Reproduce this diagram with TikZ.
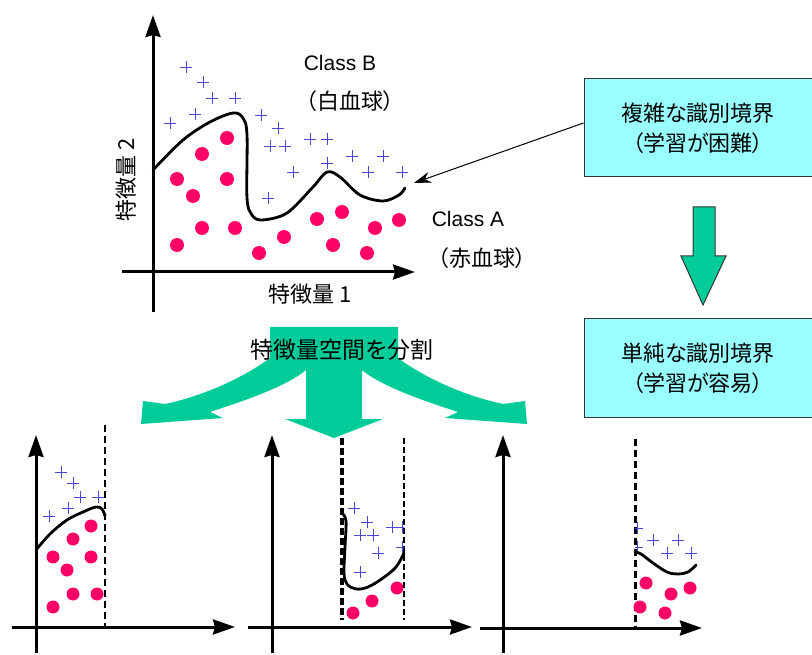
\documentclass[tikz,border=0pt]{standalone}
\usepackage{fontspec}
\setmainfont{Liberation Sans}
\newfontfamily\jp[RawFeature={+palt}]{Noto Sans CJK JP}
\usetikzlibrary{arrows.meta,calc}
\definecolor{dotc}{HTML}{FF0066}
\definecolor{plc}{HTML}{4848D8}
\definecolor{boxc}{HTML}{99FFFF}
\definecolor{grn}{HTML}{00CC99}
\begin{document}
\begin{tikzpicture}[x=1pt,y=-1pt,
  axis/.style={line width=3pt,-{Stealth[length=22pt,width=15pt,inset=2pt]}},
  bnd/.style={line width=2.8pt,line cap=round,line join=round},
  pls/.pic={\draw[plc,line width=0.9pt] (-6pt,0)--(6pt,0) (0,-6pt)--(0,6pt);},
  jptxt/.style={font=\jp\fontsize{22}{26}\selectfont,inner sep=0pt},
  lat/.style={font=\fontsize{21}{25}\selectfont,inner sep=0pt},
  cbox/.style={draw=black!80,line width=1pt,fill=boxc,minimum width=228pt,minimum height=98pt,align=center,font=\jp\fontsize{22}{30}\selectfont},
  dsh/.style={line width=3.2pt,dash pattern=on 7pt off 3pt}
]
\useasboundingbox (0,0) rectangle (812,655);

% ---------- big three-way arrow ----------
\fill[grn] (270,327) -- (398,327) -- (398,358)
  .. controls (425,378) and (465,396) .. (503,404) -- (525,401) -- (527,424)
  -- (445,418) -- (458,412) .. controls (415,398) and (380,385) .. (362,370)
  -- (362,419) -- (383,419) -- (334,438) -- (285,419) -- (306,419) -- (306,370)
  .. controls (288,385) and (253,398) .. (210,412) -- (223,418) -- (141,424)
  -- (143,401) -- (165,404) .. controls (203,396) and (243,378) .. (270,358) -- cycle;
\node[jptxt,font=\jp\fontsize{23}{27}\selectfont] (split) at (342,350) {特徴量空間を分割};

% ---------- main plot ----------
\draw[axis] (153,312) -- (153,15);
\draw[axis] (122,272) -- (415,272);
\foreach \p in {(227,138),(202,154),(177,179),(227,179),(193,196),(202,228),(235,228),(177,245),
  (259,253),(284,237),(317,219),(342,212),(333,245),(375,228),(399,220),(367,253)}
  \fill[dotc] \p circle (7pt);
\foreach \p in {(186,67),(203,82),(212,98),(235,98),(195,114),(170,123),(261,115),(278,128),
  (270,146),(285,146),(310,139),(327,139),(293,172),(327,163),(352,156),(383,156),(368,172),
  (402,172),(268,198)}
  \pic at \p {pls};
\draw[bnd] plot[smooth,tension=0.55] coordinates {(153,170) (183,140) (210,122) (233,113) (243,118)
  (247,135) (247,198) (252,215) (262,220) (287,213) (313,187) (327,172) (340,177) (360,195)
  (383,201) (399,195) (405,188)};
\coordinate (tipc) at (414,183);
\node[lat] (classB) at (340,63) {Class B};
\node[jptxt] (wbc) at (350,101) {（白血球）};
\node[lat] (classA) at (468,219) {Class A};
\node[jptxt] (rbc) at (482,258) {（赤血球）};
\node[jptxt] (f1) at (310,294) {特徴量 1};
\node[jptxt,rotate=90] (f2) at (126,180) {特徴量 2};

% ---------- boxes ----------
\node[cbox] (hard) at (698,128) {複雑な識別境界\\（学習が困難）};
\node[cbox] (easy) at (698,368) {単純な識別境界\\（学習が容易）};
\draw[line width=1pt,-{Stealth[length=17pt,width=11pt]}] ([yshift=5pt]hard.west) -- (tipc);
\draw[draw=black!80,fill=grn,line width=1pt] (693,207) -- (715,207) -- (715,256) -- (726,256)
  -- (703,305) -- (681,256) -- (693,256) -- cycle;

% ---------- panel 1 ----------
\draw[axis] (36,653) -- (36,435);
\draw[axis] (12,627) -- (235,627);
\draw[line width=2.8pt,dash pattern=on 7pt off 4pt] (105,425) -- (105,627);
\foreach \p in {(91,526),(73,539),(53,557),(91,557),(67,570),(73,594),(97,594),(53,607)}
  \fill[dotc] \p circle (6.5pt);
\foreach \p in {(61,472),(73,483),(80,497),(98,497),(68,508),(49,516)}
  \pic at \p {pls};
\draw[bnd] plot[smooth,tension=0.6] coordinates {(36,550) (50,534) (67,520) (83,512) (96,507) (102,509) (105,516)};

% ---------- panel 2 ----------
\draw[axis] (272,653) -- (272,435);
\draw[axis] (248,627) -- (472,627);
\draw[dsh] (342,438) -- (342,620);
\draw[line width=1.2pt,dash pattern=on 6pt off 3pt] (404,438) -- (404,620);
\foreach \p in {(353,613),(372,601),(397,588)}
  \fill[dotc] \p circle (6.5pt);
\begin{scope}
\clip (330,430) rectangle (404,625);
\foreach \p in {(354,508),(367,522),(360,535),(373,535),(392,527),(402,527),(402,547),(378,553),(360,572)}
  \pic at \p {pls};
\end{scope}
\draw[bnd] plot[smooth,tension=0.6] coordinates {(342,513) (346,521) (345,547) (344,573) (347,584)
  (356,589) (368,587) (383,578) (396,567) (404,553)};

% ---------- panel 3 ----------
\draw[axis] (503,653) -- (503,435);
\draw[axis] (480,628) -- (702,628);
\draw[line width=3pt,dash pattern=on 7pt off 4pt] (635,439) -- (635,628);
\foreach \p in {(646,583),(671,594),(690,588),(640,607),(665,613)}
  \fill[dotc] \p circle (6.5pt);
\begin{scope}
\clip (635,500) rectangle (720,600);
\foreach \p in {(637,528),(653,540),(678,540),(667,553),(691,553),(637,547)}
  \pic at \p {pls};
\end{scope}
\draw[bnd] plot[smooth,tension=0.6] coordinates {(635,552) (641,554) (653,563) (667,572) (678,574) (688,572) (696,565)};
\end{tikzpicture}
\end{document}
